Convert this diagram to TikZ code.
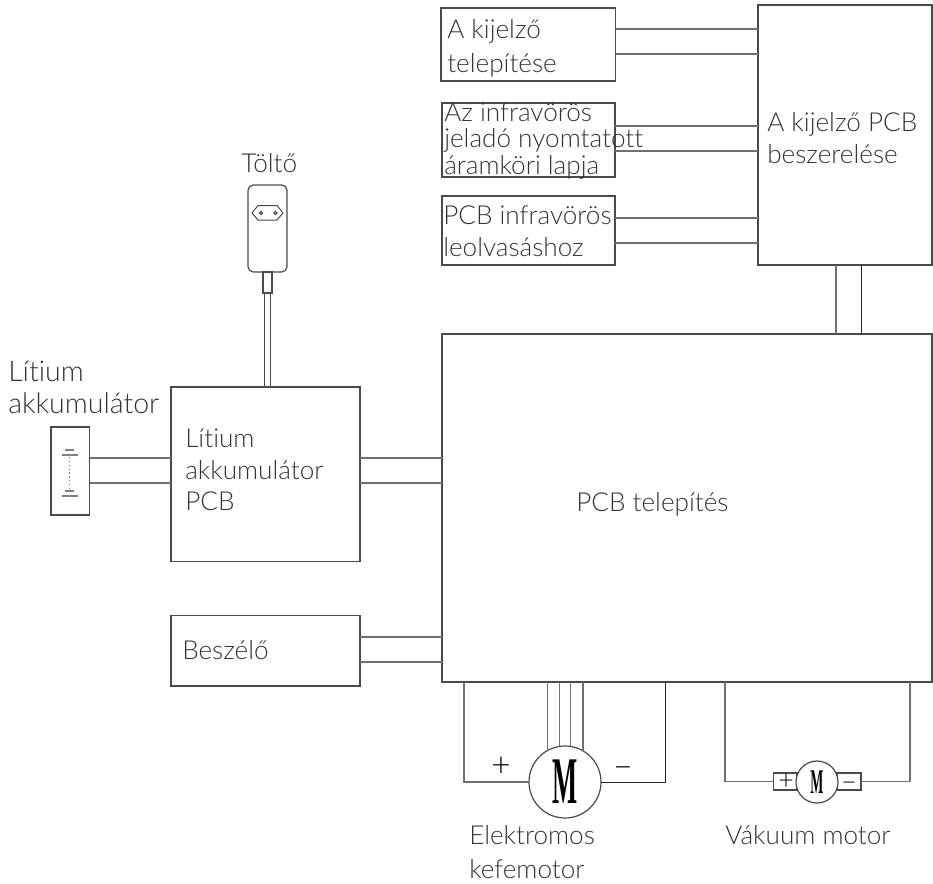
\documentclass[tikz,border=0pt]{standalone}
\usepackage{fontspec}
\setmainfont{Lato}[UprightFont={* Light},Ligatures=NoCommon]
\newfontfamily\mfont{Liberation Serif}
\newfontfamily\sfont{Lato}
\definecolor{ln}{HTML}{4A4A4A}
\definecolor{wr}{HTML}{707070}
\definecolor{tx}{HTML}{333333}
\tikzset{
  box/.style={draw=ln,line width=0.9pt,inner sep=0pt,outer sep=0pt,fill=none},
  wire/.style={draw=wr,line width=1pt},
  dark wire/.style={draw=black!85,line width=0.75pt},
  thin wire/.style={draw=ln,line width=0.75pt},
  lbl/.style={font=\fontsize{19.6}{#1}\selectfont,align=left,inner sep=0pt,anchor=west,text=tx},
  lbl/.default=24pt,
  motor/.style={circle,draw=ln,fill=white,line width=0.9pt,inner sep=0pt,outer sep=0pt},
  mbig/.style={inner sep=0pt,xscale=0.4,font=\mfont\bfseries\fontsize{50}{50}\selectfont},
  msmall/.style={inner sep=0pt,xscale=0.4,font=\mfont\bfseries\fontsize{26}{26}\selectfont},
  sign/.style={font=\fontsize{#1}{#1}\selectfont,inner sep=0pt,text=black}
}
\newcommand{\pbox}[6][box]{\node[#1,minimum width={(#4-#2)*0.75pt},minimum height={(#5-#3)*0.75pt}] (#6) at ({(#2+#4)/2},{(#3+#5)/2}) {};}
\begin{document}
\begin{tikzpicture}[x=0.75pt,y=-0.75pt]
\useasboundingbox (0,0) rectangle (933,883);
% boxes
\pbox{441}{8}{615.5}{81}{kij}
\pbox{442}{103}{615}{177}{inf}
\pbox{442}{196}{615}{265}{olv}
\pbox{758}{5}{932}{265}{dsp}
\pbox{442}{334}{932}{682}{main}
\pbox{171}{387}{360}{561.5}{lit}
\pbox{171}{615.5}{360}{686}{bes}
\pbox{51}{427}{89.5}{515}{bat}
\pbox[box,rounded corners=4pt]{248}{185}{287}{272}{chg}
\pbox{263}{272}{272}{293}{neck}
% connectors
\foreach \y in {29,54}{\draw[wire] (kij.east |- 0,\y) -- (dsp.west |- 0,\y);}
\foreach \y in {126,151}{\draw[wire] (inf.east |- 0,\y) -- (dsp.west |- 0,\y);}
\foreach \y in {218,243}{\draw[wire] (olv.east |- 0,\y) -- (dsp.west |- 0,\y);}
\draw[wire] (dsp.south -| 836,0) -- (main.north -| 836,0);
\draw[dark wire] (dsp.south -| 861,0) -- (main.north -| 861,0);
\foreach \y in {458,483}{\draw[wire] (bat.east |- 0,\y) -- (lit.west |- 0,\y);
  \draw[wire] (lit.east |- 0,\y) -- (main.west |- 0,\y);}
\foreach \y in {637,662}{\draw[wire] (bes.east |- 0,\y) -- (main.west |- 0,\y);}
\foreach \x in {264.5,270}{\draw[thin wire] (neck.south -| \x,0) -- (lit.north -| \x,0);}
% plug
\draw[thin wire] (252,213) -- (258,205.5) -- (277,205.5) -- (283,213) -- (277,220) -- (258,220) -- cycle;
\draw[thin wire] (261,213) circle (1.6) (275.5,213) circle (1.6);
% battery symbol
\draw[draw=gray,line width=0.8pt] (65,450) -- (74,450) (62,455) -- (78,455) (65,491) -- (74,491) (62,496) -- (78,496);
\draw[draw=gray,line width=0.9pt,dotted] (69.5,457) -- (69.5,489);
% motors
\pbox{773.5}{773}{797}{790}{pl}
\pbox{837}{773}{861}{790}{mi}
\node[motor,minimum size={72*0.75pt}] (m1) at (565,782) {};
\node[motor,minimum size={42*0.75pt}] (m2) at (817,782) {};
\node[mbig] (m1t) at (m1) {M};
\node[msmall] (m2t) at (m2) {M};
\foreach \a in {119.1,99.6,81.2,60.9}{\draw[wire] (main.south -| m1.\a) -- (m1.\a);}
\draw[wire] (main.south -| 464,0) |- (m1.west);
\draw[dark wire] (main.south -| 665,0) |- (m1.east);
\draw[wire] (main.south -| 725,0) |- (pl.west);
\draw[wire] (main.south -| 910,0) |- (mi.east);
\node[sign=25] (p1) at (501,767) {+};
\node[sign=25] (n1) at (623,773) {−};
\node[sign=20] (p2) at (786,782) {+};
\node[sign=20] (n2) at (849,787) {−};
% texts
\node[lbl=25.5pt] (t1) at (447,48) {A kijelző\\telepítése};
\node[lbl=20.2pt] (t2) at (444,141) {Az infravörös\\jeladó nyomtatott\\áramköri lapja};
\node[lbl=24pt] (t3) at (443,231) {PCB infravörös\\leolvasáshoz};
\node[lbl=24pt] (t4) at (767,138) {A kijelző PCB\\beszerelése};
\node[lbl] (t5) at (576,504) {PCB telepítés};
\node[lbl=23.5pt] (t6) at (185,470) {Lítium\\akkumulátor\\PCB};
\node[lbl] (t7) at (182,650) {Beszélő};
\node[lbl] (t8) at (241,163) {Töltő};
\node[lbl=24pt,font=\fontsize{21.4}{24pt}\selectfont] (t9) at (8,387) {Lítium\\akkumulátor};
\node[lbl=25.5pt] (t10) at (469,852.5) {Elektromos\\kefemotor};
\node[lbl] (t11) at (725,835) {Vákuum motor};
\end{tikzpicture}
\end{document}
